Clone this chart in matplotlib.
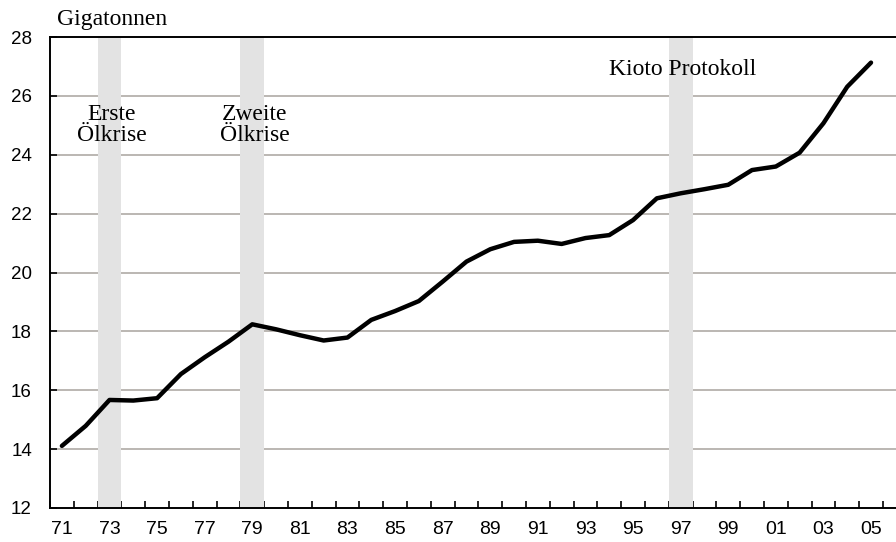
import matplotlib.pyplot as plt
import numpy as np

years = ['71', '72', '73', '74', '75', '76', '77', '78', '79', '80',
         '81', '82', '83', '84', '85', '86', '87', '88', '89', '90',
         '91', '92', '93', '94', '95', '96', '97', '98', '99', '00',
         '01', '02', '03', '04', '05']
emissions = [14.11, 14.79, 15.67, 15.65, 15.73, 16.55, 17.12, 17.65, 18.24, 18.07,
             17.87, 17.69, 17.79, 18.39, 18.69, 19.03, 19.69, 20.37, 20.79, 21.04,
             21.08, 20.97, 21.17, 21.27, 21.78, 22.52, 22.69, 22.83, 22.98, 23.48,
             23.60, 24.07, 25.07, 26.31, 27.13]
events = ['73', '79', '97']
event_labels = ['Erste\nÖlkrise', 'Zweite\nÖlkrise', 'Kioto Protokoll']
event_label_y = [25.0, 25.0, 26.88]

serif = ['Liberation Serif', 'DejaVu Serif']
plt.rcParams['font.family'] = ['Liberation Sans', 'DejaVu Sans']

fig = plt.figure(figsize=(8.96, 5.42), dpi=100)
ax = fig.add_axes([50 / 896, 34 / 542, 846 / 896, 471 / 542])

x = np.arange(len(years))

ax.set_ylim(12, 28)
ax.set_xlim(-0.5, 35.05)
for yv in range(14, 28, 2):
    ax.axhline(yv, color='#a8a39e', lw=1.1, zorder=1)

for ev, lab, ly in zip(events, event_labels, event_label_y):
    i = years.index(ev)
    ax.axvspan(i - 0.5, i + 0.5, color='#e3e3e3', lw=0, zorder=2)
    ax.text(i + 0.1, ly, lab, ha='center', va='center', fontsize=17,
            family=serif, linespacing=1.0, zorder=4)

ax.plot(x, emissions, color='black', lw=3.2, solid_capstyle='round',
        solid_joinstyle='round', zorder=5)

ax.set_xticks(x[::2])
ax.set_xticklabels(years[::2])
ax.set_xticks(np.arange(-0.5, 35, 1), minor=True)
ax.tick_params(axis='x', which='major', length=0, pad=9, labelsize=14)
ax.tick_params(axis='x', which='minor', direction='in', length=5, width=1.2)
ax.set_yticks(range(12, 29, 2))
ax.tick_params(axis='y', direction='in', length=5, width=1.2, pad=13, labelsize=13.5)

ax.spines['right'].set_visible(False)
for s in ['left', 'bottom', 'top']:
    ax.spines[s].set_linewidth(1.4)
    ax.spines[s].set_zorder(6)

fig.text(57 / 896, 1 - 20 / 542, 'Gigatonnen', ha='left', va='center',
         fontsize=17, family=serif)

fig.savefig('out.png', dpi=100)
